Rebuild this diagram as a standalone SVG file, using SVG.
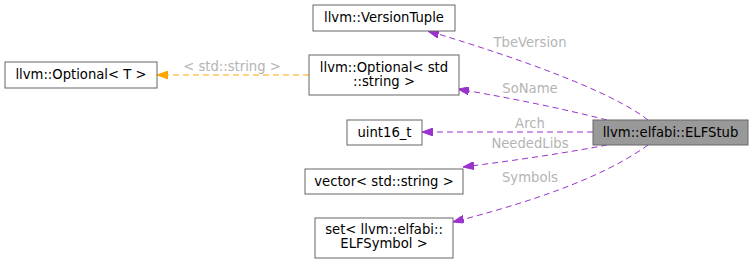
<svg xmlns="http://www.w3.org/2000/svg" width="753" height="265" viewBox="0 0 753 265">
<style>
  .box rect { fill: #ffffff; stroke: #666666; stroke-width: 1; }
  .box.main rect { fill: #999999; }
  text { font-family: "DejaVu Sans", sans-serif; font-size: 13.2px; }
  .box text { fill: #000000; text-anchor: middle; }
  .lbl { fill: #b4b4b4; text-anchor: middle; }
  .member { fill: none; stroke: #9a32cd; stroke-width: 1; stroke-dasharray: 6,4; }
  .tmpl { fill: none; stroke: #ffa500; stroke-width: 1; stroke-dasharray: 6,4; }
</style>
<defs>
  <marker id="headP" viewBox="0 0 11 8" refX="11" refY="4" markerWidth="11" markerHeight="8" markerUnits="userSpaceOnUse" orient="auto">
    <path d="M0,0 L11,4 L0,8 Z" fill="#9a32cd" stroke="#9a32cd"/>
  </marker>
  <marker id="headO" viewBox="0 0 11 8" refX="11" refY="4" markerWidth="11" markerHeight="8" markerUnits="userSpaceOnUse" orient="auto">
    <path d="M0,0 L11,4 L0,8 Z" fill="#ffa500" stroke="#ffa500"/>
  </marker>
</defs>

<g id="connectors">
  <path class="member" d="M648,120 C612,92 525,60 428,31" marker-end="url(#headP)"/>
  <text class="lbl" x="530" y="47">TbeVersion</text>
  <path class="member" d="M607,120 C560,108 510,98 458,89" marker-end="url(#headP)"/>
  <text class="lbl" x="530" y="93">SoName</text>
  <path class="member" d="M593,132 L422,132" marker-end="url(#headP)"/>
  <text class="lbl" x="530" y="128">Arch</text>
  <path class="member" d="M607,145 C560,154 510,161 463,167" marker-end="url(#headP)"/>
  <text class="lbl" x="530" y="148">NeededLibs</text>
  <path class="member" d="M648,145 C600,180 520,205 453,222" marker-end="url(#headP)"/>
  <text class="lbl" x="530" y="182">Symbols</text>
  <path class="tmpl" d="M309,75 L157,75" marker-end="url(#headO)"/>
  <text class="lbl" x="232" y="71">&lt; std::string &gt;</text>
</g>

<g id="node-elfstub" class="box main">
  <rect x="593" y="120" width="155" height="25"/>
  <text x="670.5" y="137">llvm::elfabi::ELFStub</text>
</g>
<g id="node-versiontuple" class="box">
  <rect x="313" y="5" width="142" height="26"/>
  <text x="384" y="22">llvm::VersionTuple</text>
</g>
<g id="node-optional-string" class="box">
  <rect x="309" y="55" width="150" height="40"/>
  <text x="384" y="72">llvm::Optional&lt; std</text>
  <text x="384" y="86">::string &gt;</text>
</g>
<g id="node-optional-t" class="box">
  <rect x="5" y="62" width="152" height="26"/>
  <text x="81" y="79">llvm::Optional&lt; T &gt;</text>
</g>
<g id="node-uint16" class="box">
  <rect x="347" y="120" width="75" height="25"/>
  <text x="384.5" y="137">uint16_t</text>
</g>
<g id="node-vector" class="box">
  <rect x="305" y="169" width="158" height="25"/>
  <text x="384" y="186">vector&lt; std::string &gt;</text>
</g>
<g id="node-set" class="box">
  <rect x="315" y="218" width="138" height="40"/>
  <text x="384" y="234">set&lt; llvm::elfabi::</text>
  <text x="384" y="248">ELFSymbol &gt;</text>
</g>
</svg>
